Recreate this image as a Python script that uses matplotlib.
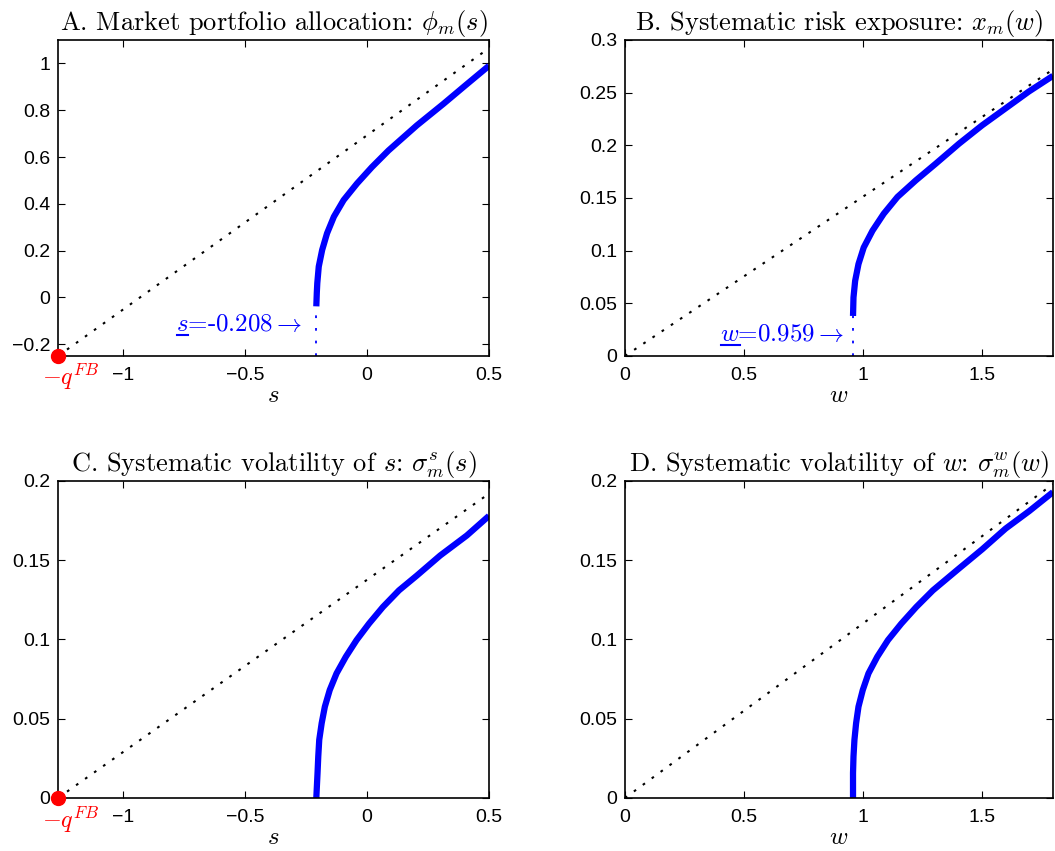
import matplotlib
matplotlib.use("Agg")
import matplotlib.pyplot as plt
from matplotlib.lines import Line2D

plt.rcParams['mathtext.fontset'] = 'cm'
plt.rcParams['font.family'] = ['Liberation Sans', 'DejaVu Sans']

# panel A: market portfolio allocation phi_m(s)
s_a = [-0.208, -0.206, -0.204, -0.198, -0.184, -0.164, -0.136, -0.096, -0.041, 0.02,
       0.088, 0.204, 0.313, 0.402, 0.5]
phi_a = [-0.038, 0.02, 0.061, 0.132, 0.203, 0.274, 0.345, 0.416, 0.487, 0.557,
         0.628, 0.735, 0.827, 0.905, 0.99]
s_fb_a = [-1.267, 0.5]
phi_fb_a = [-0.25, 1.065]

# panel B: systematic risk exposure x_m(w)
w_b = [0.959, 0.961, 0.968, 0.982, 1.004, 1.041, 1.088, 1.146, 1.223, 1.307, 1.405,
       1.502, 1.6, 1.698, 1.8]
x_b = [0.038, 0.0556, 0.0714, 0.0873, 0.103, 0.119, 0.135, 0.151, 0.1667, 0.1826,
       0.2016, 0.219, 0.235, 0.251, 0.266]
w_fb_b = [0.0, 1.8]
x_fb_b = [0.0, 0.272]

# panel C: systematic volatility of s
s_c = [-0.208, -0.203, -0.2, -0.196, -0.186, -0.173, -0.153, -0.125, -0.087, -0.043,
       0.008, 0.065, 0.131, 0.204, 0.3, 0.409, 0.5]
sig_c = [0.0, 0.0157, 0.0262, 0.0367, 0.0472, 0.0576, 0.0681, 0.0786, 0.0891, 0.0996,
         0.11, 0.1205, 0.131, 0.1403, 0.153, 0.1656, 0.178]
s_fb_c = [-1.267, 0.5]
sig_fb_c = [0.0, 0.192]

# panel D: systematic volatility of w
w_d = [0.959, 0.959, 0.961, 0.965, 0.972, 0.982, 1.0, 1.024, 1.061, 1.106, 1.162,
       1.225, 1.295, 1.404, 1.503, 1.601, 1.7, 1.8]
sig_d = [0.0, 0.0157, 0.0262, 0.0367, 0.0472, 0.0576, 0.0681, 0.0786, 0.0891, 0.0996,
         0.11, 0.1205, 0.131, 0.1447, 0.157, 0.17, 0.181, 0.193]
w_fb_d = [0.0, 1.8]
sig_fb_d = [0.0, 0.198]

q_fb = 1.267
s_low = -0.208
w_low = 0.959

s_ticks = [-1, -0.5, 0, 0.5]
s_ticklabels = ['\u22121', '\u22120.5', '0', '0.5']
w_ticks = [0, 0.5, 1, 1.5]
w_ticklabels = ['0', '0.5', '1', '1.5']
a_yticks = [-0.2, 0, 0.2, 0.4, 0.6, 0.8, 1]
a_yticklabels = ['\u22120.2', '0', '0.2', '0.4', '0.6', '0.8', '1']
b_yticks = [0, 0.05, 0.1, 0.15, 0.2, 0.25, 0.3]
b_yticklabels = ['0', '0.05', '0.1', '0.15', '0.2', '0.25', '0.3']
cd_yticks = [0, 0.05, 0.1, 0.15, 0.2]
cd_yticklabels = ['0', '0.05', '0.1', '0.15', '0.2']

titles = ['A. Market portfolio allocation: $\\phi_m(s)$',
          'B. Systematic risk exposure: $x_m(w)$',
          'C. Systematic volatility of $s$: $\\sigma^s_m(s)$',
          'D. Systematic volatility of $w$: $\\sigma^w_m(w)$']

fig = plt.figure(figsize=(10.55, 8.51), dpi=100)
axA = fig.add_axes([0.055, 0.5817, 0.4085, 0.3713])
axB = fig.add_axes([0.5924, 0.5817, 0.4057, 0.3713])
axC = fig.add_axes([0.055, 0.0623, 0.4085, 0.3725])
axD = fig.add_axes([0.5924, 0.0623, 0.4057, 0.3725])

blue = '#0000ff'


def style(ax, title, xlab, xlim, ylim, xt, xtl, yt, ytl):
    ax.set_xlim(*xlim)
    ax.set_ylim(*ylim)
    ax.set_xticks(xt)
    ax.set_xticklabels(xtl)
    ax.set_yticks(yt)
    ax.set_yticklabels(ytl)
    ax.tick_params(direction='in', top=True, right=True, labelsize=14, length=5,
                   width=0.8)
    ax.tick_params(axis='x', pad=8)
    ax.tick_params(axis='y', pad=5.5)
    for sp in ax.spines.values():
        sp.set_linewidth(1.2)
    ax.set_title(title, fontsize=19, family='cmr10', pad=7)
    ax.set_xlabel(xlab, fontsize=18, labelpad=-1)


def fb_line(ax, x, y):
    ax.plot(x, y, color='black', linestyle=(0, (1.3, 4.0)), linewidth=1.5)


def bound_label(ax, x, y, var, value):
    # text like "s=-0.208->", the variable gets underlined after drawing
    return ax.text(x, y, '$%s$=%s$\\rightarrow$' % (var, value), color=blue,
                   fontsize=18, family='cmr10', ha='right', va='baseline')


# A
fb_line(axA, s_fb_a, phi_fb_a)
axA.plot(s_a, phi_a, color=blue, linewidth=4.5, solid_capstyle='butt')
axA.plot([s_low, s_low], [-0.25, phi_a[0]], color=blue, linestyle=(0, (1.5, 5.5)),
         linewidth=1.3)
labA = bound_label(axA, -0.266, -0.145, 's', '-0.208')
axA.plot([-q_fb], [-0.25], 'o', color='red', markersize=10, clip_on=False, zorder=5)
axA.text(-q_fb + 0.05, -0.275, '$-q^{FB}$', color='red', fontsize=17.5,
         ha='center', va='top')
style(axA, titles[0], '$s$', (-q_fb, 0.5), (-0.25, 1.1), s_ticks, s_ticklabels,
      a_yticks, a_yticklabels)

# B
fb_line(axB, w_fb_b, x_fb_b)
axB.plot(w_b, x_b, color=blue, linewidth=4.5, solid_capstyle='butt')
axB.plot([w_low, w_low], [0, x_b[0]], color=blue, linestyle=(0, (1.5, 5.5)),
         linewidth=1.3)
labB = bound_label(axB, 0.923, 0.0143, 'w', '0.959')
style(axB, titles[1], '$w$', (0, 1.8), (0, 0.3), w_ticks, w_ticklabels,
      b_yticks, b_yticklabels)

# C
fb_line(axC, s_fb_c, sig_fb_c)
axC.plot(s_c, sig_c, color=blue, linewidth=4.5, solid_capstyle='butt')
axC.plot([-q_fb], [0], 'o', color='red', markersize=10, clip_on=False, zorder=5)
axC.text(-q_fb + 0.05, -0.004, '$-q^{FB}$', color='red', fontsize=17.5,
         ha='center', va='top')
style(axC, titles[2], '$s$', (-q_fb, 0.5), (0, 0.2), s_ticks, s_ticklabels,
      cd_yticks, cd_yticklabels)

# D
fb_line(axD, w_fb_d, sig_fb_d)
axD.plot(w_d, sig_d, color=blue, linewidth=4.5, solid_capstyle='butt')
style(axD, titles[3], '$w$', (0, 1.8), (0, 0.2), w_ticks, w_ticklabels,
      cd_yticks, cd_yticklabels)

# underline the variable in the bound labels (mathtext has no \underline)
fig.canvas.draw()
r = fig.canvas.get_renderer()
for ax, lab, var in [(axA, labA, 's'), (axB, labB, 'w')]:
    bb = lab.get_window_extent(r)
    tmp = ax.text(0, 0, '$%s$' % var, fontsize=18)
    wv = tmp.get_window_extent(r).width
    tmp.remove()
    base_y = ax.transData.transform(lab.get_position())[1]
    yline = base_y - 4
    fig.add_artist(Line2D([bb.x0 + 1, bb.x0 + wv], [yline, yline],
                          transform=None, color=blue, linewidth=1.5))

fig.savefig('out.png', dpi=100)
